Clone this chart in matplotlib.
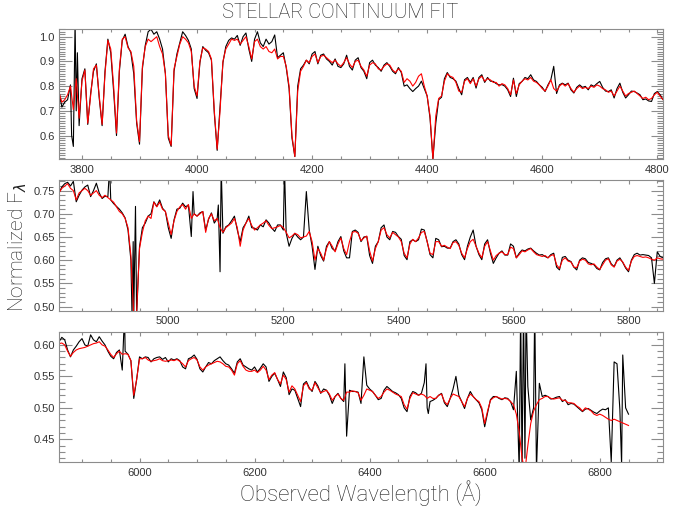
import numpy as np
import matplotlib
matplotlib.use('Agg')
import matplotlib.pyplot as plt
from matplotlib.ticker import MultipleLocator, FormatStrFormatter

wave_start = 3760
wave_step = 5

# ---- panel 1 : 3760 - 4810
model_p1 = [775,735,745,765,800,705,830,670,820,865,
            650,760,870,885,760,645,850,985,950,800,
            610,870,990,1000,955,940,880,660,575,880,
            960,990,980,990,1000,960,930,850,600,560,
            870,920,970,1000,990,975,940,800,760,900,
            955,950,940,910,700,545,700,900,950,970,
            990,985,990,970,985,1000,960,910,980,990,
            960,950,960,940,935,950,910,920,920,880,
            800,600,515,780,860,880,905,895,920,930,
            895,920,925,915,905,895,905,890,880,895,
            915,890,875,900,905,880,865,840,885,895,
            890,870,865,880,890,885,865,855,870,860,
            815,830,820,800,815,840,850,800,760,680,
            505,680,750,760,820,850,840,835,815,780,
            775,820,830,810,830,800,830,840,820,830,
            825,815,815,800,810,805,790,765,825,770,
            805,820,830,825,835,820,815,805,790,780,
            800,826,790,780,800,810,800,810,790,775,
            790,800,790,795,790,800,795,805,800,790,
            785,775,780,760,780,800,780,760,770,775,
            780,770,760,750,755,745,750,765,775,760,
            745]
data_p1 = [780,715,735,745,805,556,700,640,830,870,
           645,770,860,890,750,640,860,990,935,780,
           600,860,985,1010,960,935,850,650,565,870,
           965,1020,1030,1010,1020,990,950,850,590,556,
           860,930,975,1020,1005,985,950,790,750,895,
           960,945,935,905,690,540,720,895,960,985,
           995,990,1005,965,1000,1015,950,900,990,1020,
           975,960,990,970,980,1007,915,925,935,875,
           790,590,515,800,870,885,905,890,930,940,
           890,925,930,910,900,885,910,880,875,890,
           925,880,865,905,915,875,860,830,895,905,
           885,875,860,885,895,880,860,850,875,855,
           800,805,790,778,790,800,820,790,760,670,
           505,650,745,755,830,855,835,830,820,790,
           765,826,835,815,835,792,835,846,815,835,
           820,819,810,805,806,800,785,758,832,758,
           810,819,835,830,846,825,819,805,795,778,
           805,826,880,770,805,812,805,812,785,772,
           795,805,795,799,785,805,799,810,819,795,
           780,778,785,752,790,812,775,752,765,780,
           778,772,765,745,748,740,738,770,778,765,
           745]

# ---- panel 2 : 4815 - 5860
model_p2 = [755,760,765,755,750,730,745,750,755,750,
            740,745,750,740,735,740,735,730,725,715,
            705,700,690,670,610,480,490,625,660,685,
            695,690,725,715,725,710,705,680,655,685,
            705,715,720,710,720,690,700,695,700,705,
            660,690,700,685,690,670,660,670,675,680,
            690,670,630,665,680,690,675,665,670,676,
            680,685,675,668,670,672,675,670,660,648,
            652,658,655,648,650,652,662,640,600,625,
            615,600,625,640,630,618,635,648,625,612,
            640,660,662,658,642,648,652,620,598,625,
            640,665,670,655,648,660,655,650,640,615,
            605,635,645,640,648,660,662,640,615,612,
            640,640,630,632,628,625,638,640,632,615,
            605,625,640,645,630,615,605,630,640,620,
            600,610,615,618,612,612,628,625,605,612,
            620,618,622,625,618,612,610,608,610,605,
            610,612,590,582,600,605,598,596,585,584,
            598,602,600,592,590,592,585,580,590,600,
            603,590,585,598,602,596,585,578,598,608,
            610,608,606,607,605,602,600,605,603,602]
data_p2 = [758,765,768,760,770,726,740,751,758,762,
           737,750,766,745,733,738,737,730,722,716,
           710,702,691,665,600,480,480,629,670,680,
           695,700,726,716,730,712,705,670,647,687,
           710,712,723,715,719,651,700,695,702,705,
           665,688,702,680,690,575,658,672,676,685,
           695,665,640,670,680,695,670,669,665,676,
           672,687,680,669,662,676,676,665,658,630,
           647,658,650,644,650,748,665,630,580,630,
           610,598,630,640,625,620,640,651,620,605,
           605,662,665,660,640,650,651,610,593,630,
           640,670,676,650,644,662,660,651,645,610,
           601,640,644,640,644,667,665,640,612,605,
           647,644,629,630,626,626,640,644,635,612,
           601,630,650,665,630,612,601,635,644,615,
           593,605,615,620,611,611,635,630,605,615,
           622,620,624,626,620,615,611,612,608,605,
           612,615,585,579,606,608,600,597,585,579,
           600,605,603,595,593,590,582,579,595,603,
           605,592,586,600,605,595,583,575,600,612,
           615,611,612,611,610,605,550,618,608,605]

# ---- panel 3 : 5865 - 6850
model_p3 = [603,600,590,582,588,592,594,595,596,598,
            600,602,603,605,600,598,592,585,580,586,
            590,585,586,585,575,520,545,578,578,580,
            576,574,575,576,578,575,574,575,576,575,
            577,574,570,565,575,578,580,576,565,560,
            565,568,570,572,574,573,570,566,565,560,
            552,570,575,566,560,558,558,560,556,560,
            566,560,545,552,556,545,538,552,545,525,
            535,530,520,510,535,540,530,528,540,532,
            524,526,528,522,512,518,522,515,512,525,
            525,527,526,524,512,520,530,528,526,520,
            515,518,525,530,528,525,522,520,518,505,
            498,515,524,522,520,522,520,515,518,515,
            515,520,522,510,505,515,522,520,518,510,
            502,515,522,518,513,510,500,475,495,512,
            516,518,516,514,515,514,510,505,490,462,
            420,400,440,475,495,505,513,515,518,518,
            515,514,515,516,512,512,508,508,507,503,
            500,495,500,498,495,490,488,490,488,485,
            482,480,482,480,478,476,474,472]
data_p3 = [612,608,592,581,592,598,605,610,600,598,
           616,608,605,613,606,600,590,582,578,588,
           592,560,590,585,575,515,545,581,578,581,
           580,573,578,580,581,577,580,573,578,576,
           578,575,565,562,578,580,584,577,562,557,
           565,572,570,575,578,581,575,570,568,562,
           555,573,578,568,565,562,560,565,557,563,
           570,565,542,550,555,545,534,557,548,521,
           530,528,515,502,538,542,532,526,542,535,
           523,530,528,520,507,518,523,515,510,455,
           528,526,526,525,507,581,536,530,526,520,
           513,515,528,534,530,526,524,521,515,500,
           494,518,526,524,520,523,540,500,510,512,
           515,520,523,508,502,515,530,550,520,510,
           499,515,526,518,513,508,497,470,492,513,
           518,518,515,513,516,515,510,497,558,400,
           400,420,534,481,500,400,539,518,520,518,
           514,515,517,518,510,513,505,507,506,502,
           498,494,498,499,496,493,491,495,498,497,
           500,414,573,570,497,584,500,490]

# narrow spikes / sky residuals in the data between grid points
spike_wave = [3782, 3788, 3792, 4898, 4937, 4939, 4943, 5043, 5087, 5092,
              5202, 5974, 6357, 6498, 6502, 6662.5, 6667.5, 6672, 6687, 6838]
spike_flux = [600, 1060, 935, 800, 480, 640, 716, 748, 719, 800,
              800, 650, 570, 570, 491, 660, 660, 660, 660, 410]

panel_xlim = [(3760, 4810), (4810, 5860), (5860, 6910)]
panel_ylim = [(0.505, 1.031), (0.491, 0.773), (0.414, 0.621)]
panel_ymajor = [0.1, 0.05, 0.05]
panel_yfmt = ['%.1f', '%.2f', '%.2f']

model = np.array(model_p1 + model_p2 + model_p3) / 1000.0
data = np.array(data_p1 + data_p2 + data_p3) / 1000.0
wave = wave_start + wave_step * np.arange(len(model))

dwave = np.concatenate([wave, spike_wave])
dflux = np.concatenate([data, np.array(spike_flux) / 1000.0])
order = np.argsort(dwave, kind='stable')
dwave = dwave[order]
dflux = dflux[order]

plt.rcParams['font.family'] = ['Liberation Sans', 'DejaVu Sans']
frame_col = '#8c8c8c'
label_font = ['Roboto', 'DejaVu Sans']

fig = plt.figure(figsize=(6.81, 5.11), dpi=100)
boxes = [[0.0866, 0.6888, 0.887, 0.2544],
         [0.0866, 0.3920, 0.887, 0.2558],
         [0.0866, 0.0959, 0.887, 0.2550]]

for i in range(3):
    ax = fig.add_axes(boxes[i])
    ax.plot(dwave, dflux, color='black', lw=0.8)
    ax.plot(wave, model, color='#ff0000', lw=0.8)
    ax.set_xlim(panel_xlim[i])
    ax.set_ylim(panel_ylim[i])
    ax.xaxis.set_major_locator(MultipleLocator(200))
    ax.xaxis.set_minor_locator(MultipleLocator(50))
    ax.yaxis.set_major_locator(MultipleLocator(panel_ymajor[i]))
    ax.yaxis.set_minor_locator(MultipleLocator(0.01))
    ax.yaxis.set_major_formatter(FormatStrFormatter(panel_yfmt[i]))
    ax.tick_params(axis='both', which='both', direction='in', top=True, right=True,
                   color=frame_col, labelcolor='#333333', labelsize=8, width=0.8)
    ax.tick_params(axis='x', which='major', length=3, pad=4)
    ax.tick_params(axis='x', which='minor', length=2)
    ax.tick_params(axis='y', which='major', length=9, pad=3)
    ax.tick_params(axis='y', which='minor', length=4)
    for s in ax.spines.values():
        s.set_color(frame_col)
        s.set_linewidth(0.8)

fig.text(340 / 681, 1 - 13 / 511, 'STELLAR CONTINUUM FIT', ha='center', va='center',
         fontsize=14.5, family=label_font, fontweight='light', color='#222222')
fig.text(18 / 681, 1 - 247 / 511, r'Normalized F$_{\lambda}$', ha='center', va='center',
         rotation=90, fontsize=15, family=label_font, fontweight='light', color='#222222')
fig.text(361 / 681, 1 - 493 / 511, 'Observed Wavelength (Å)', ha='center', va='center',
         fontsize=16, family=label_font, fontweight='light', color='#222222')

fig.savefig('out.png', dpi=100)
